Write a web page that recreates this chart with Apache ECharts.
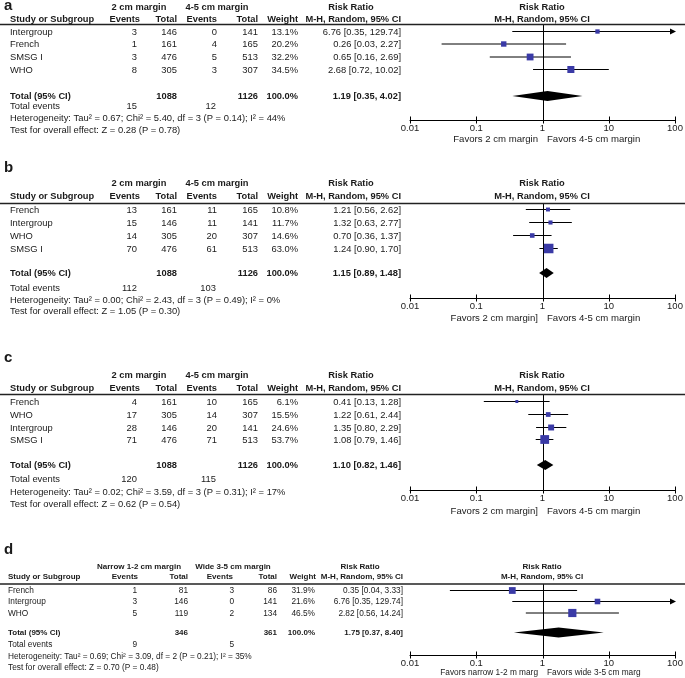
<!DOCTYPE html>
<html><head><meta charset="utf-8">
<script src="https://cdn.jsdelivr.net/npm/echarts@6/dist/echarts.min.js"></script>
<style>html,body{margin:0;padding:0;background:#fff}#c{width:685px;height:678px}</style>
</head><body><div id="c"></div>
<script>
// ---------------- DATA ----------------
const tickValues = [0.01, 0.1, 1, 10, 100];
const tickLabels = ['0.01', '0.1', '1', '10', '100'];

// Panel a
const aStudies = ['Intergroup', 'French', 'SMSG I', 'WHO'];
const aEvents1 = [3, 1, 3, 8];
const aTotal1 = [146, 161, 476, 305];
const aEvents2 = [0, 4, 5, 3];
const aTotal2 = [141, 165, 513, 307];
const aWeight = [13.1, 20.2, 32.2, 34.5];
const aRR = [6.76, 0.26, 0.65, 2.68];
const aLow = [0.35, 0.03, 0.16, 0.72];
const aHigh = [129.74, 2.27, 2.69, 10.02];
const aPooled = [1088, 1126, 1.19, 0.35, 4.02];
const aTotalEvents = [15, 12];
const aGroups = ['2 cm margin', '4-5 cm margin'];
const aFavors = ['Favors 2 cm margin', 'Favors 4-5 cm margin'];
const aHet = 'Heterogeneity: Tau\u00b2 = 0.67; Chi\u00b2 = 5.40, df = 3 (P = 0.14); I\u00b2 = 44%';
const aTest = 'Test for overall effect: Z = 0.28 (P = 0.78)';

// Panel b
const bStudies = ['French', 'Intergroup', 'WHO', 'SMSG I'];
const bEvents1 = [13, 15, 14, 70];
const bTotal1 = [161, 146, 305, 476];
const bEvents2 = [11, 11, 20, 61];
const bTotal2 = [165, 141, 307, 513];
const bWeight = [10.8, 11.7, 14.6, 63.0];
const bRR = [1.21, 1.32, 0.70, 1.24];
const bLow = [0.56, 0.63, 0.36, 0.90];
const bHigh = [2.62, 2.77, 1.37, 1.70];
const bPooled = [1088, 1126, 1.15, 0.89, 1.48];
const bTotalEvents = [112, 103];
const bGroups = ['2 cm margin', '4-5 cm margin'];
const bFavors = ['Favors 2 cm margin]', 'Favors 4-5 cm margin'];
const bHet = 'Heterogeneity: Tau\u00b2 = 0.00; Chi\u00b2 = 2.43, df = 3 (P = 0.49); I\u00b2 = 0%';
const bTest = 'Test for overall effect: Z = 1.05 (P = 0.30)';

// Panel c
const cStudies = ['French', 'WHO', 'Intergroup', 'SMSG I'];
const cEvents1 = [4, 17, 28, 71];
const cTotal1 = [161, 305, 146, 476];
const cEvents2 = [10, 14, 20, 71];
const cTotal2 = [165, 307, 141, 513];
const cWeight = [6.1, 15.5, 24.6, 53.7];
const cRR = [0.41, 1.22, 1.35, 1.08];
const cLow = [0.13, 0.61, 0.80, 0.79];
const cHigh = [1.28, 2.44, 2.29, 1.46];
const cPooled = [1088, 1126, 1.10, 0.82, 1.46];
const cTotalEvents = [120, 115];
const cGroups = ['2 cm margin', '4-5 cm margin'];
const cFavors = ['Favors 2 cm margin]', 'Favors 4-5 cm margin'];
const cHet = 'Heterogeneity: Tau\u00b2 = 0.02; Chi\u00b2 = 3.59, df = 3 (P = 0.31); I\u00b2 = 17%';
const cTest = 'Test for overall effect: Z = 0.62 (P = 0.54)';

// Panel d
const dStudies = ['French', 'Intergroup', 'WHO'];
const dEvents1 = [1, 3, 5];
const dTotal1 = [81, 146, 119];
const dEvents2 = [3, 0, 2];
const dTotal2 = [86, 141, 134];
const dWeight = [31.9, 21.6, 46.5];
const dRR = [0.35, 6.76, 2.82];
const dLow = [0.04, 0.35, 0.56];
const dHigh = [3.33, 129.74, 14.24];
const dPooled = [346, 361, 1.75, 0.37, 8.40];
const dTotalEvents = [9, 5];
const dGroups = ['Narrow 1-2 cm margin', 'Wide 3-5 cm margin'];
const dFavors = ['Favors narrow 1-2 m marg', 'Favors wide 3-5 cm marg'];
const dHet = 'Heterogeneity: Tau\u00b2 = 0.69; Chi\u00b2 = 3.09, df = 2 (P = 0.21); I\u00b2 = 35%';
const dTest = 'Test for overall effect: Z = 0.70 (P = 0.48)';

// ---------------- LAYOUT ----------------
const FAM = '"Liberation Sans", Arial, Helvetica, sans-serif';
const TXT = '#1a1a1a';
const BOX = '#3a3aa6';
const PLOT_LEFT = 410, PLOT_WIDTH = 265, PLOT_CENTER = 542;

const layouts = [
  {label: 5.5, h1: 7, h2: 19, line: 24.5, rows: [31.5, 44, 57, 69.5], total: 96, events: 106, het: 118, test: 130, axis: 120, favors: 139},
  {label: 168, h1: 183, h2: 196.5, line: 203.5, rows: [209.5, 222.5, 235.5, 248.5], total: 273, events: 288, het: 300, test: 311, axis: 298, favors: 318},
  {label: 358, h1: 375, h2: 388, line: 394.5, rows: [401.5, 414.5, 427.5, 439.5], total: 465, events: 479, het: 492, test: 504, axis: 490, favors: 511},
  {label: 549.5, h1: 566.5, h2: 577, line: 584, rows: [590.5, 601.5, 613], total: 632.5, events: 645, het: 657, test: 668, axis: 655, favors: 673}
];
const colsABC = {study: 10, ev1: 137, tot1: 177, ev2: 217, tot2: 258, wt: 298, ci: 401, hev1: 140, htot1: 177, hev2: 217, htot2: 258, hwt: 298, hci: 401, h1a: 139, h1b: 217, h1c: 351, tev1: 137, tev2: 216, fl: 538, fr: 547};
const colsD = {study: 8, ev1: 137, tot1: 188, ev2: 234, tot2: 277, wt: 315, ci: 403, hev1: 138, htot1: 188, hev2: 233, htot2: 277, hwt: 316, hci: 403, h1a: 139, h1b: 233, h1c: 360, tev1: 137, tev2: 234, fl: 538, fr: 547};
const fontsABC = {reg: '9.4px ' + FAM, bold: 'bold 9.3px ' + FAM, fav: '9.6px ' + FAM};
const fontsD = {reg: '8.3px ' + FAM, bold: 'bold 8px ' + FAM, fav: '8.3px ' + FAM};

const panels = [
  {key: 'a', studies: aStudies, ev1: aEvents1, tot1: aTotal1, ev2: aEvents2, tot2: aTotal2, w: aWeight, rr: aRR, lo: aLow, hi: aHigh, pooled: aPooled, tev: aTotalEvents, groups: aGroups, favors: aFavors, het: aHet, test: aTest},
  {key: 'b', studies: bStudies, ev1: bEvents1, tot1: bTotal1, ev2: bEvents2, tot2: bTotal2, w: bWeight, rr: bRR, lo: bLow, hi: bHigh, pooled: bPooled, tev: bTotalEvents, groups: bGroups, favors: bFavors, het: bHet, test: bTest},
  {key: 'c', studies: cStudies, ev1: cEvents1, tot1: cTotal1, ev2: cEvents2, tot2: cTotal2, w: cWeight, rr: cRR, lo: cLow, hi: cHigh, pooled: cPooled, tev: cTotalEvents, groups: cGroups, favors: cFavors, het: cHet, test: cTest},
  {key: 'd', studies: dStudies, ev1: dEvents1, tot1: dTotal1, ev2: dEvents2, tot2: dTotal2, w: dWeight, rr: dRR, lo: dLow, hi: dHigh, pooled: dPooled, tev: dTotalEvents, groups: dGroups, favors: dFavors, het: dHet, test: dTest}
];

function ciText(r, l, h) { return r.toFixed(2) + ' [' + l.toFixed(2) + ', ' + h.toFixed(2) + ']'; }
function txt(x, y, s, font, align) {
  return {type: 'text', x: x, y: y, silent: true, z: 10,
    style: {text: String(s), font: font, fill: TXT, textAlign: align || 'left', textVerticalAlign: 'middle'}};
}

const graphics = [];
const grids = [], xAxes = [], yAxes = [], series = [];

panels.forEach(function (P, i) {
  const L = layouts[i];
  const C = i === 3 ? colsD : colsABC;
  const F = i === 3 ? fontsD : fontsABC;
  graphics.push(txt(4, L.label, P.key, 'bold 15px ' + FAM, 'left'));
  graphics.push(txt(C.h1a, L.h1, P.groups[0], F.bold, 'center'));
  graphics.push(txt(C.h1b, L.h1, P.groups[1], F.bold, 'center'));
  graphics.push(txt(C.h1c, L.h1, 'Risk Ratio', F.bold, 'center'));
  graphics.push(txt(PLOT_CENTER, L.h1, 'Risk Ratio', F.bold, 'center'));
  graphics.push(txt(C.study, L.h2, 'Study or Subgroup', F.bold, 'left'));
  graphics.push(txt(C.hev1, L.h2, 'Events', F.bold, 'right'));
  graphics.push(txt(C.htot1, L.h2, 'Total', F.bold, 'right'));
  graphics.push(txt(C.hev2, L.h2, 'Events', F.bold, 'right'));
  graphics.push(txt(C.htot2, L.h2, 'Total', F.bold, 'right'));
  graphics.push(txt(C.hwt, L.h2, 'Weight', F.bold, 'right'));
  graphics.push(txt(C.hci, L.h2, 'M-H, Random, 95% CI', F.bold, 'right'));
  graphics.push(txt(PLOT_CENTER, L.h2, 'M-H, Random, 95% CI', F.bold, 'center'));
  graphics.push({type: 'line', silent: true, z: 5, shape: {x1: 0, y1: L.line, x2: 685, y2: L.line}, style: {stroke: '#222', lineWidth: 1.3}});
  P.studies.forEach(function (s, j) {
    const y = L.rows[j] + 0.5;
    graphics.push(txt(C.study, y, s, F.reg, 'left'));
    graphics.push(txt(C.ev1, y, P.ev1[j], F.reg, 'right'));
    graphics.push(txt(C.tot1, y, P.tot1[j], F.reg, 'right'));
    graphics.push(txt(C.ev2, y, P.ev2[j], F.reg, 'right'));
    graphics.push(txt(C.tot2, y, P.tot2[j], F.reg, 'right'));
    graphics.push(txt(C.wt, y, P.w[j].toFixed(1) + '%', F.reg, 'right'));
    graphics.push(txt(C.ci, y, ciText(P.rr[j], P.lo[j], P.hi[j]), F.reg, 'right'));
  });
  graphics.push(txt(C.study, L.total, 'Total (95% CI)', F.bold, 'left'));
  graphics.push(txt(C.tot1, L.total, P.pooled[0], F.bold, 'right'));
  graphics.push(txt(C.tot2, L.total, P.pooled[1], F.bold, 'right'));
  graphics.push(txt(C.wt, L.total, '100.0%', F.bold, 'right'));
  graphics.push(txt(C.ci, L.total, ciText(P.pooled[2], P.pooled[3], P.pooled[4]), F.bold, 'right'));
  graphics.push(txt(C.study, L.events, 'Total events', F.reg, 'left'));
  graphics.push(txt(C.tev1, L.events, P.tev[0], F.reg, 'right'));
  graphics.push(txt(C.tev2, L.events, P.tev[1], F.reg, 'right'));
  graphics.push(txt(C.study, L.het, P.het, F.reg, 'left'));
  graphics.push(txt(C.study, L.test, P.test, F.reg, 'left'));
  graphics.push(txt(C.fl, L.favors, P.favors[0], F.fav, 'right'));
  graphics.push(txt(C.fr, L.favors, P.favors[1], F.fav, 'left'));

  const H = L.axis - L.line;
  grids.push({left: PLOT_LEFT, width: PLOT_WIDTH, top: L.line, height: H, containLabel: false, outerBoundsMode: 'none', show: false});
  xAxes.push({gridIndex: i, type: 'log', logBase: 10, min: tickValues[0], max: tickValues[tickValues.length - 1], splitNumber: 4,
    position: 'bottom',
    axisLine: {show: true, onZero: false, lineStyle: {color: '#000', width: 1}}, axisTick: {show: false}, splitLine: {show: false}, minorTick: {show: false},
    axisLabel: {show: true, margin: 3, fontSize: 9.5, fontFamily: FAM, color: TXT, showMinLabel: true, showMaxLabel: true, hideOverlap: false,
      formatter: function (v) { const k = Math.round(Math.log10(v)) + 2; return tickLabels[k] !== undefined ? tickLabels[k] : ''; }}});
  yAxes.push({gridIndex: i, type: 'value', min: 0, max: H, inverse: true, show: false});

  series.push({type: 'custom', xAxisIndex: i, yAxisIndex: i, silent: true, z: 2, clip: false,
    data: tickValues.map(function (t) { return [t, H]; }),
    renderItem: function (params, api) {
      const t = api.value(0);
      const p = api.coord([t, H]);
      const x = Math.round(p[0]) + 0.5;
      const children = [{type: 'line', shape: {x1: x, y1: p[1] - 3.5, x2: x, y2: p[1] + 3.5}, style: {stroke: '#000', lineWidth: 1}}];
      if (t === 1) {
        const q = api.coord([1, 0]);
        children.push({type: 'line', shape: {x1: x, y1: q[1], x2: x, y2: p[1]}, style: {stroke: '#000', lineWidth: 1}});
      }
      return {type: 'group', children: children};
    }});

  series.push({type: 'custom', xAxisIndex: i, yAxisIndex: i, silent: true, z: 3, clip: false,
    data: P.studies.map(function (s, j) { return [P.rr[j], L.rows[j] - L.line, P.lo[j], P.hi[j], P.w[j]]; }),
    encode: {x: 0, y: 1},
    renderItem: function (params, api) {
      const est = api.value(0), y = api.value(1), l = api.value(2), h = api.value(3), w = api.value(4);
      const xmin = tickValues[0], xmax = tickValues[tickValues.length - 1];
      const pl = api.coord([Math.max(l, xmin), y]);
      const ph = api.coord([Math.min(h, xmax), y]);
      const pe = api.coord([est, y]);
      const sz = Math.max(2.5, 1.2 * Math.sqrt(w));
      const children = [
        {type: 'line', shape: {x1: pl[0], y1: pl[1], x2: ph[0], y2: ph[1]}, style: {stroke: '#000', lineWidth: 1}},
        {type: 'rect', shape: {x: pe[0] - sz / 2, y: pe[1] - sz / 2, width: sz, height: sz}, style: {fill: BOX}}
      ];
      if (h > xmax) {
        children.push({type: 'polygon', shape: {points: [[ph[0] + 1, ph[1]], [ph[0] - 5, ph[1] - 3], [ph[0] - 5, ph[1] + 3]]}, style: {fill: '#000'}});
      }
      return {type: 'group', children: children};
    }});

  series.push({type: 'custom', xAxisIndex: i, yAxisIndex: i, silent: true, z: 4, clip: false,
    data: [[P.pooled[2], L.total - L.line, P.pooled[3], P.pooled[4]]],
    encode: {x: 0, y: 1},
    renderItem: function (params, api) {
      const est = api.value(0), y = api.value(1), l = api.value(2), h = api.value(3);
      const pl = api.coord([l, y]), ph = api.coord([h, y]), pe = api.coord([est, y]);
      return {type: 'polygon', shape: {points: [[pl[0], pl[1]], [pe[0], pe[1] - 5], [ph[0], ph[1]], [pe[0], pe[1] + 5]]}, style: {fill: '#000'}};
    }});
});

const chart = echarts.init(document.getElementById('c'), null, {renderer: 'canvas'});
chart.setOption({
  animation: false,
  backgroundColor: '#fff',
  grid: grids,
  xAxis: xAxes,
  yAxis: yAxes,
  series: series,
  graphic: {elements: graphics}
});
</script></body></html>
